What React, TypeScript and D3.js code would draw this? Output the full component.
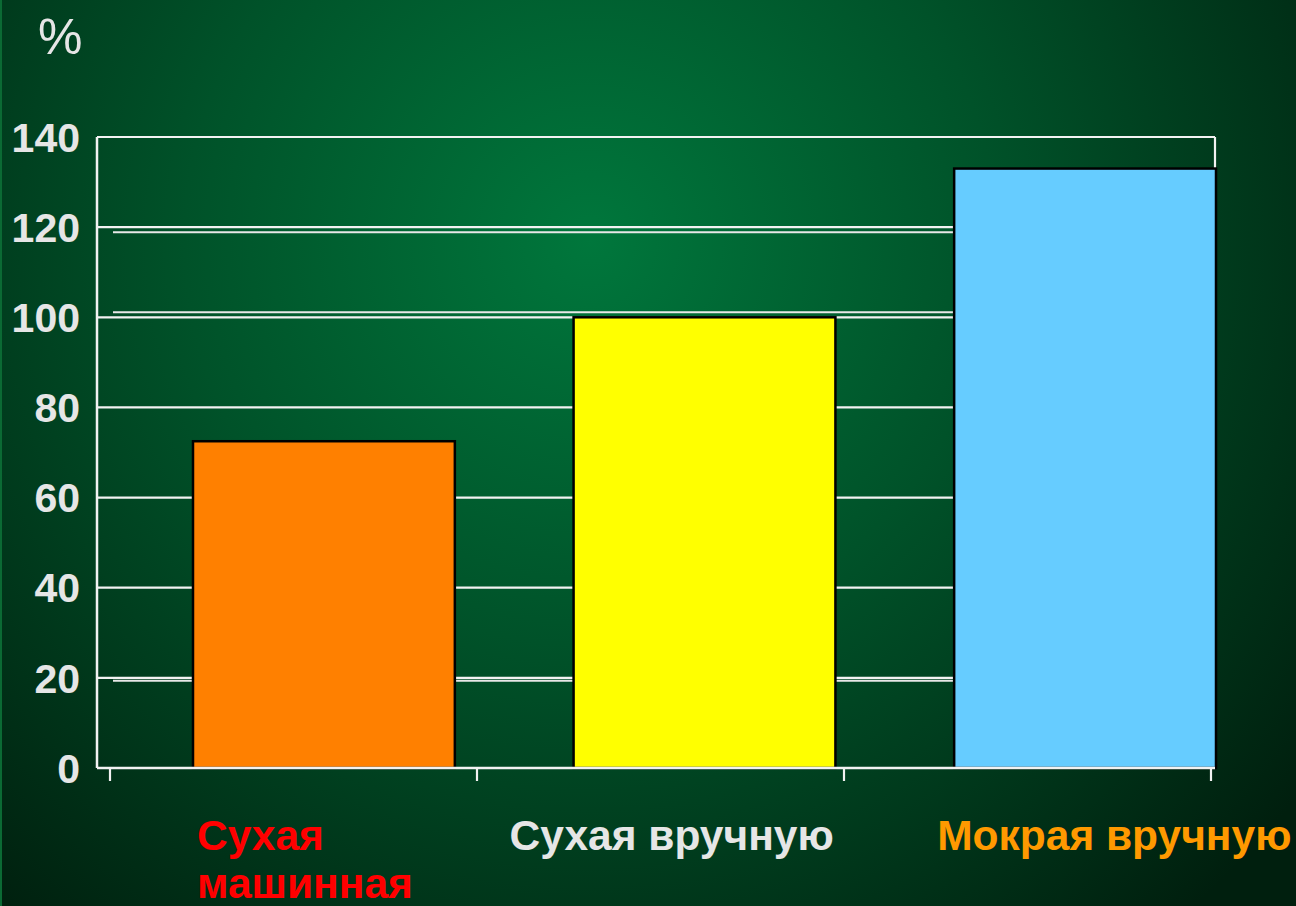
import React from "react";
import * as d3 from "d3";

const categories = ["Сухая машинная", "Сухая вручную", "Мокрая вручную"];
const values = [72.5, 100, 133];
const yTicks = [0, 20, 40, 60, 80, 100, 120, 140];
const barColors = ["#ff8000", "#ffff00", "#66ccff"];
const labelLines = [["Сухая", "машинная"], ["Сухая вручную"], ["Мокрая вручную"]];
const labelColors = ["#ff0000", "#e6e6e6", "#ff9900"];
const labelDx = [4, -64, -17];
const echoTicks = [
  { v: 120, dy: 5 },
  { v: 100, dy: -5 },
  { v: 20, dy: 3 },
];

const W = 1296;
const H = 906;
const FONT = "'Liberation Sans', Arial, sans-serif";

export default function App() {
  const y = d3.scaleLinear().domain([0, 140]).range([768, 137]);
  const xAxisLeft = 97;
  const xAxisRight = 1215;
  const xBars = d3
    .scaleBand<string>()
    .domain(categories)
    .range([193, 1216])
    .paddingInner(0.312)
    .paddingOuter(0);
  const xTicks = d3.scaleBand<string>().domain(categories).range([110, 1211]);
  const tickXs = [...categories.map((c) => xTicks(c) as number), xTicks.range()[1]];

  return (
    <svg
      width={W}
      height={H}
      style={{ position: "absolute", left: 0, top: 0, display: "block" }}
      fontFamily={FONT}
    >
      <defs>
        <radialGradient id="bg" cx="590" cy="240" r="900" gradientUnits="userSpaceOnUse">
          <stop offset="0" stopColor="#00773c" />
          <stop offset="0.45" stopColor="#005229" />
          <stop offset="1" stopColor="#001f0e" />
        </radialGradient>
      </defs>
      <rect x={0} y={0} width={W} height={H} fill="url(#bg)" />
      <rect x={0} y={0} width={2} height={H} fill="#0b6a34" />

      {/* % unit */}
      <text x={38} y={54} fontSize={50} fill="#e6e6e6" fontFamily={FONT}>
        %
      </text>

      {/* gridlines */}
      {yTicks.map((t) => (
        <line
          key={"g" + t}
          x1={xAxisLeft}
          x2={xAxisRight}
          y1={y(t)}
          y2={y(t)}
          stroke="#f2f2f2"
          strokeWidth={2.2}
        />
      ))}
      {echoTicks.map((e) => (
        <line
          key={"e" + e.v}
          x1={113}
          x2={xAxisRight}
          y1={y(e.v) + e.dy}
          y2={y(e.v) + e.dy}
          stroke="#e8e8e8"
          strokeWidth={2}
        />
      ))}
      {/* right border */}
      <line x1={xAxisRight} x2={xAxisRight} y1={y(140)} y2={y(0)} stroke="#f2f2f2" strokeWidth={2.2} />

      {/* bars */}
      {categories.map((c, i) => (
        <rect
          key={c}
          x={xBars(c)}
          y={y(values[i])}
          width={xBars.bandwidth()}
          height={y(0) - y(values[i])}
          fill={barColors[i]}
          stroke="#000"
          strokeWidth={2.5}
        />
      ))}

      {/* axes */}
      <line x1={xAxisLeft} x2={xAxisLeft} y1={y(140)} y2={y(0)} stroke="#f2f2f2" strokeWidth={2.5} />
      <line x1={xAxisLeft} x2={xAxisRight} y1={y(0)} y2={y(0)} stroke="#f2f2f2" strokeWidth={2.5} />
      {tickXs.map((tx, i) => (
        <line key={"t" + i} x1={tx} x2={tx} y1={y(0)} y2={y(0) + 13} stroke="#f2f2f2" strokeWidth={2.2} />
      ))}

      {/* y tick labels */}
      {yTicks.map((t) => (
        <text
          key={"l" + t}
          x={80}
          y={y(t)}
          dy="0.36em"
          textAnchor="end"
          fontSize={41}
          fontWeight="bold"
          fill="#e6e6e6"
        >
          {t}
        </text>
      ))}

      {/* category labels */}
      {categories.map((c, i) => (
        <text
          key={"c" + c}
          x={(xBars(c) as number) + labelDx[i]}
          y={850}
          fontSize={42.5}
          fontWeight="bold"
          fill={labelColors[i]}
        >
          {labelLines[i].map((ln, j) => (
            <tspan key={j} x={(xBars(c) as number) + labelDx[i]} dy={j === 0 ? 0 : 48}>
              {ln}
            </tspan>
          ))}
        </text>
      ))}
    </svg>
  );
}
